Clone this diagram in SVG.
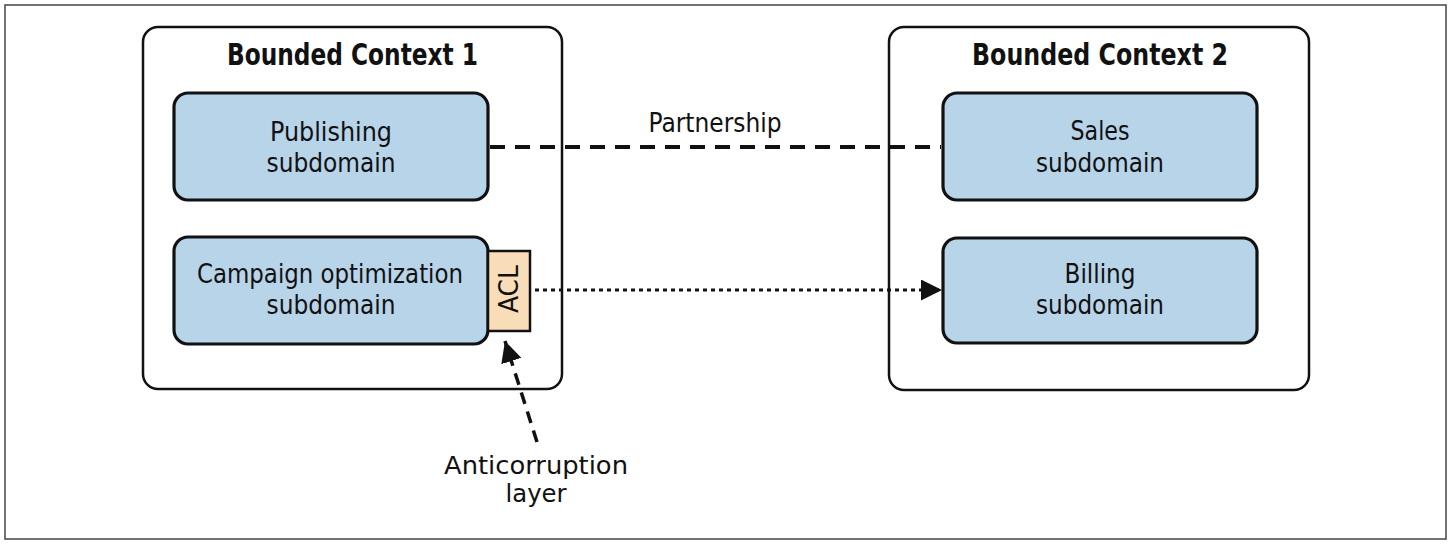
<svg xmlns="http://www.w3.org/2000/svg" width="1450" height="544" viewBox="0 0 1450 544">
<style>
text{font-family:"DejaVu Sans","Liberation Sans",sans-serif;font-stretch:condensed;fill:#111;text-anchor:middle}
.title{font-size:30px;font-weight:bold}
.lbl{font-size:26px}
.note{font-size:24px}
.ctx{fill:#fff;stroke:#111;stroke-width:2.5}
.sub{fill:#b8d4e9;stroke:#111;stroke-width:3.2}
.acl{fill:#f9ddb8;stroke:#111;stroke-width:2.5}
</style>
<defs>
<marker id="ah" viewBox="0 0 10 10" refX="10" refY="5" markerWidth="7" markerHeight="7" markerUnits="strokeWidth" orient="auto">
<path d="M0,0 L10,5 L0,10 Z" fill="#111"/>
</marker>
<marker id="ah2" viewBox="0 0 10 10" refX="10" refY="5" markerWidth="6" markerHeight="6" markerUnits="strokeWidth" orient="auto">
<path d="M0,0 L10,5 L0,10 Z" fill="#111"/>
</marker>
</defs>
<rect x="5" y="5" width="1441" height="534" fill="#fff" stroke="#444" stroke-width="1.5"/>
<g id="bc1">
<rect class="ctx" x="143" y="27" width="419" height="362" rx="15"/>
<text class="title" x="352.5" y="65" textLength="251" lengthAdjust="spacingAndGlyphs">Bounded Context 1</text>
</g>
<g id="bc2">
<rect class="ctx" x="889" y="27" width="420" height="363" rx="15"/>
<text class="title" x="1100" y="65" textLength="256" lengthAdjust="spacingAndGlyphs">Bounded Context 2</text>
</g>
<g id="publishing">
<rect class="sub" x="174" y="93" width="314" height="107" rx="14"/>
<text class="lbl" x="331" y="141" textLength="122" lengthAdjust="spacingAndGlyphs">Publishing</text>
<text class="lbl" x="331" y="172" textLength="129" lengthAdjust="spacingAndGlyphs">subdomain</text>
</g>
<g id="campaign">
<rect class="sub" x="174" y="237" width="314" height="107" rx="14"/>
<text class="lbl" x="330" y="283" textLength="266" lengthAdjust="spacingAndGlyphs">Campaign optimization</text>
<text class="lbl" x="331" y="314" textLength="129" lengthAdjust="spacingAndGlyphs">subdomain</text>
</g>
<g id="acl">
<rect class="acl" x="488" y="251" width="42" height="80"/>
<text class="lbl" transform="translate(518,289) rotate(-90)" x="0" y="0" textLength="48" lengthAdjust="spacingAndGlyphs">ACL</text>
</g>
<g id="sales">
<rect class="sub" x="943" y="93" width="314" height="107" rx="14"/>
<text class="lbl" x="1100" y="140" textLength="59" lengthAdjust="spacingAndGlyphs">Sales</text>
<text class="lbl" x="1100" y="172" textLength="128" lengthAdjust="spacingAndGlyphs">subdomain</text>
</g>
<g id="billing">
<rect class="sub" x="943" y="238" width="314" height="105" rx="14"/>
<text class="lbl" x="1100" y="283" textLength="71" lengthAdjust="spacingAndGlyphs">Billing</text>
<text class="lbl" x="1100" y="314" textLength="128" lengthAdjust="spacingAndGlyphs">subdomain</text>
</g>
<g id="acl-note">
<text class="note" x="536" y="474" textLength="184" lengthAdjust="spacingAndGlyphs">Anticorruption</text>
<text class="note" x="536" y="502" textLength="61" lengthAdjust="spacingAndGlyphs">layer</text>
</g>
<g id="connectors" fill="none" stroke="#111">
<line x1="490" y1="147" x2="941" y2="147" stroke-width="4" stroke-dasharray="15 10"/>
<text x="715" y="132" class="lbl" stroke="none" textLength="133" lengthAdjust="spacingAndGlyphs">Partnership</text>
<line x1="535" y1="290" x2="942" y2="290" stroke-width="3" stroke-dasharray="4 4" marker-end="url(#ah)"/>
<line x1="537" y1="442" x2="505" y2="341" stroke-width="3.5" stroke-dasharray="12 8" marker-end="url(#ah2)"/>
</g>
</svg>
